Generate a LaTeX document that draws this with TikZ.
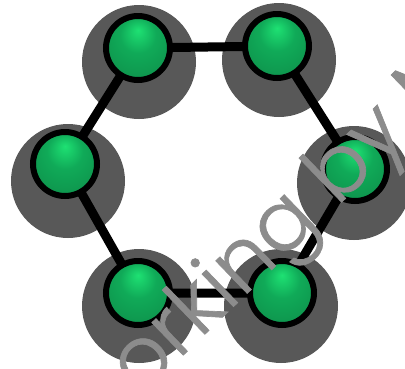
\documentclass[tikz,border=0pt]{standalone}
\usepackage{fontspec}
\IfFontExistsTF{Poppins Light}{\newfontfamily\wmfont[FakeBold=0.8]{Poppins Light}}{\IfFontExistsTF{Lato Light}{\newfontfamily\wmfont[FakeBold=0.8]{Lato Light}}{\newfontfamily\wmfont{Poppins}}}
\definecolor{gbright}{RGB}{30,225,115}
\definecolor{gmid}{RGB}{16,170,88}
\definecolor{gdark}{RGB}{8,110,55}
\definecolor{shadowgray}{RGB}{88,88,88}
\definecolor{wmgray}{RGB}{140,140,140}
\pgfdeclareradialshading{greenball}{\pgfpoint{0bp}{14bp}}{color(0bp)=(gbright); color(14bp)=(gmid); color(34bp)=(gmid!85!black); color(44bp)=(gdark); color(50bp)=(gdark)}
\pgfdeclarelayer{shadowlayer}
\pgfdeclarelayer{linklayer}
\pgfdeclarelayer{marklayer}
\pgfsetlayers{shadowlayer,linklayer,main,marklayer}
\begin{document}
\begin{tikzpicture}[x=1pt,y=-1pt,
  ball/.style={circle, minimum size=64pt, inner sep=0pt, draw=black, line width=6pt, shading=greenball},
  shad/.style={circle, minimum size=114pt, inner sep=0pt, fill=shadowgray},
  link/.style={line width=9pt, draw=black},
  wmark/.style={text=wmgray, font=\wmfont\fontsize{83}{83}\selectfont, inner sep=0pt}]
\useasboundingbox (0,0) rectangle (405,368);
\clip (0,0) rectangle (405,368);
% balls
\node[ball] (n1) at (138,48) {};
\node[ball] (n2) at (277,46) {};
\node[ball] (n3) at (355,169) {};
\node[ball] (n4) at (282,293) {};
\node[ball] (n5) at (138,293) {};
\node[ball] (n6) at (65,164) {};
\begin{pgfonlayer}{shadowlayer}
\node[shad] (s1) at (139,62) {};
\node[shad] (s2) at (279,60) {};
\node[shad] (s3) at (354,183) {};
\node[shad] (s4) at (281,306) {};
\node[shad] (s5) at (139,306) {};
\node[shad] (s6) at (68,181) {};
\end{pgfonlayer}
\begin{pgfonlayer}{linklayer}
\draw[link] (n1.center) -- (n2.center) -- (n3.center) -- (n4.center) -- (n5.center) -- (n6.center) -- cycle;
\end{pgfonlayer}
\begin{pgfonlayer}{marklayer}
\node[wmark, rotate=44, anchor=base west] (wm) at (140,397) {orking by M};
\end{pgfonlayer}
\end{tikzpicture}
\end{document}
